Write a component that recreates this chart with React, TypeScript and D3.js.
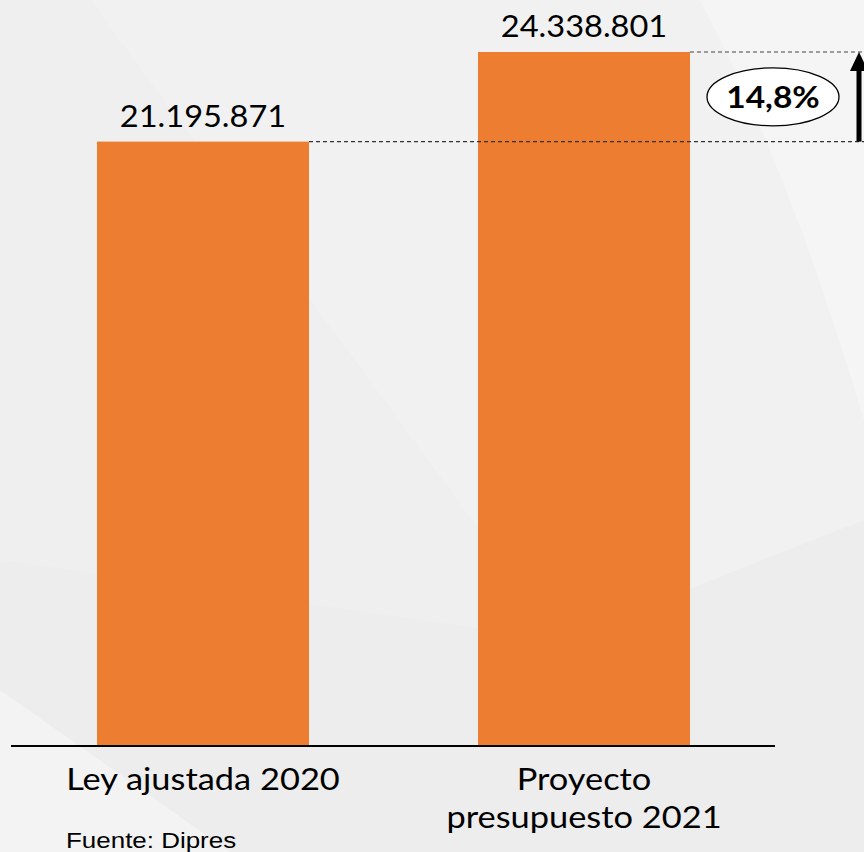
import React from "react";
import * as d3 from "d3";

const categories = ["Ley ajustada 2020", "Proyecto presupuesto 2021"];
const categoryLines = [["Ley ajustada 2020"], ["Proyecto", "presupuesto 2021"]];
const values = [21195871, 24338801];
const valueLabels = ["21.195.871", "24.338.801"];
const changeLabel = "14,8%";
const sourceLabel = "Fuente: Dipres";

const W = 864;
const H = 852;
const FONT = "Lato, 'Open Sans', sans-serif";

export default function App() {
  const xb = d3
    .scaleBand<string>()
    .domain(categories)
    .range([20.8, 766.2])
    .paddingInner(0.4436)
    .paddingOuter(0.2);
  const y = d3.scaleLinear().domain([0, values[1]]).range([746, 52]);
  const bx = (c: string) => xb(c)!;
  const bw = xb.bandwidth();
  const y0 = y(values[0]);
  const y1 = y(values[1]);
  const arrowX = 859;
  const cx = (c: string) => bx(c) + bw / 2;
  const stretched = (
    key: string | number,
    tx: number,
    ty: number,
    s: string,
    size: number,
    sx: number,
    extra: any = {}
  ) => (
    <g key={key} transform={`translate(${tx},${ty}) scale(${sx},1)`}>
      <text x={0} y={0} textAnchor="middle" fontFamily={FONT} fontSize={size} fill="#000" {...extra}>
        {s}
      </text>
    </g>
  );
  return (
    <div style={{ position: "absolute", left: 0, top: 0 }}>
      <svg width={W} height={H} style={{ display: "block" }}>
        <rect width={W} height={H} fill="#ededed" />
        <path d="M0,0 L864,0 L864,520 L560,640 L90,0 Z" fill="#f1f1f1" />
        <path d="M0,0 L90,0 L560,640 L0,560 Z" fill="#efefef" />
        <path d="M700,0 L864,0 L864,420 Q790,170 700,0 Z" fill="#f5f5f5" />
        <path d="M0,690 L230,852 L0,852 Z" fill="#f3f3f3" />
        {categories.map((c, i) => (
          <rect key={c} x={bx(c)} y={y(values[i])} width={bw} height={y(0) - y(values[i])} fill="#ED7D31" />
        ))}
        <line x1={11} x2={775} y1={y(0)} y2={y(0)} stroke="#000" strokeWidth={2} />
        {categories.map((c, i) => stretched(c, cx(c), y(values[i]) - 15, valueLabels[i], 31, 1.05))}
        <line x1={bx(categories[0]) + bw} x2={W} y1={y0} y2={y0} stroke="#333" strokeWidth={1.2} strokeDasharray="4,3" />
        <line x1={bx(categories[1]) + bw} x2={W} y1={y1} y2={y1} stroke="#444" strokeWidth={1.2} strokeDasharray="4,3" />
        <line x1={arrowX} x2={arrowX} y1={y0} y2={y1 + 16} stroke="#000" strokeWidth={5} />
        <path d={`M${arrowX - 9},${y1 + 19} L${arrowX},${y1} L${arrowX + 9},${y1 + 19} Z`} fill="#000" />
        <ellipse cx={773} cy={(y0 + y1) / 2} rx={66} ry={29} fill="#fff" stroke="#000" strokeWidth={1.3} />
        {stretched("chg", 773, (y0 + y1) / 2 + 11, changeLabel, 31, 1.08, { fontWeight: "bold" })}
        {categories.map((c, i) => (
          <g key={c}>
            {categoryLines[i].map((l, j) => stretched(j, cx(c), 790 + j * 38, l, 31, 1.11))}
          </g>
        ))}
        <g transform={`translate(66,848) scale(1.18,1)`}>
          <text x={0} y={0} fontFamily="'Liberation Sans', Arial, sans-serif" fontSize={22} fill="#000">
            {sourceLabel}
          </text>
        </g>
      </svg>
    </div>
  );
}
